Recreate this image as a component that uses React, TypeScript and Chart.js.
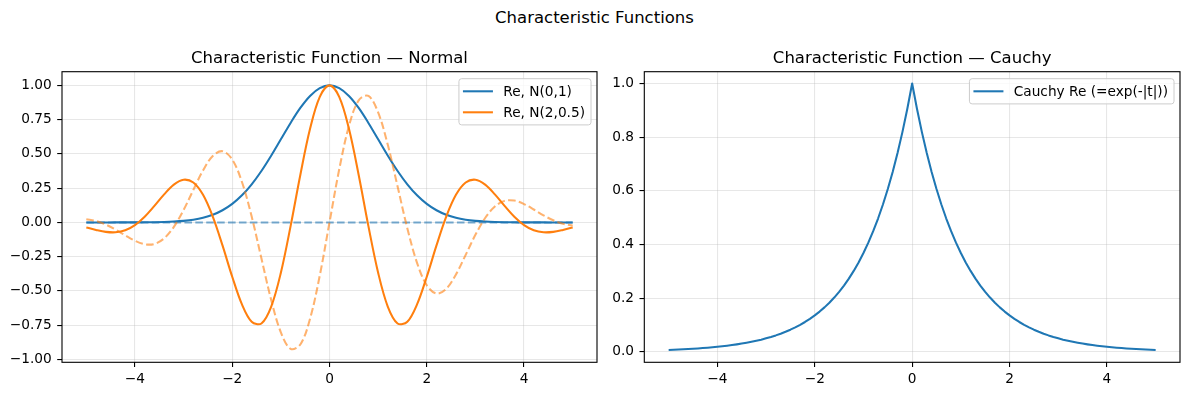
import React, { useEffect, useRef } from "react";
import { Chart, registerables } from "chart.js";
Chart.register(...registerables);

// ---------- data ----------
const tNormal = [-5.0,-4.8,-4.6,-4.4,-4.2,-4.0,-3.8,-3.6,-3.4,-3.2,-3.0,-2.8,-2.6,-2.4,-2.2,-2.0,-1.8,-1.6,-1.4,-1.2,-1.0,-0.8,-0.6,-0.4,-0.2,0,0.2,0.4,0.6,0.8,1.0,1.2,1.4,1.6,1.8,2.0,2.2,2.4,2.6,2.8,3.0,3.2,3.4,3.6,3.8,4.0,4.2,4.4,4.6,4.8,5.0];

const reN01 = [0.0000,0.0000,0.0000,0.0001,0.0001,0.0003,0.0007,0.0015,0.0031,0.0060,0.0111,0.0198,0.0340,0.0561,0.0889,0.1353,0.1979,0.2780,0.3753,0.4868,0.6065,0.7261,0.8353,0.9231,0.9802,1.0000,0.9802,0.9231,0.8353,0.7261,0.6065,0.4868,0.3753,0.2780,0.1979,0.1353,0.0889,0.0561,0.0340,0.0198,0.0111,0.0060,0.0031,0.0015,0.0007,0.0003,0.0001,0.0001,0.0000,0.0000,0.0000];

const imN01 = [0,0,0,0,0,0,0,0,0,0,0,0,0,0,0,0,0,0,0,0,0,0,0,0,0,0,0,0,0,0,0,0,0,0,0,0,0,0,0,0,0,0,0,0,0,0,0,0,0,0,0];

const reN2 = [-0.0369,-0.0552,-0.0692,-0.0721,-0.0573,-0.0197,0.0413,0.1204,0.2049,0.2761,0.3118,0.2911,0.2013,0.0426,-0.1678,-0.3964,-0.5982,-0.7249,-0.7375,-0.6159,-0.3672,-0.0270,0.3465,0.6829,0.9165,1.0000,0.9165,0.6829,0.3465,-0.0270,-0.3672,-0.6159,-0.7375,-0.7249,-0.5982,-0.3964,-0.1678,0.0426,0.2013,0.2911,0.3118,0.2761,0.2049,0.1204,0.0413,-0.0197,-0.0573,-0.0721,-0.0692,-0.0552,-0.0369];

const imN2 = [0.0239,0.0098,-0.0158,-0.0520,-0.0943,-0.1339,-0.1592,-0.1571,-0.1165,-0.0324,0.0907,0.2369,0.3796,0.4850,0.5197,0.4590,0.2952,0.0424,-0.2622,-0.5642,-0.8025,-0.9227,-0.8910,-0.7032,-0.3875,0,0.3875,0.7032,0.8910,0.9227,0.8025,0.5642,0.2622,-0.0424,-0.2952,-0.4590,-0.5197,-0.4850,-0.3796,-0.2369,-0.0907,0.0324,0.1165,0.1571,0.1592,0.1339,0.0943,0.0520,0.0158,-0.0098,-0.0239];

const tCauchy = [-5.0,-4.9,-4.8,-4.7,-4.6,-4.5,-4.4,-4.3,-4.2,-4.1,-4.0,-3.9,-3.8,-3.7,-3.6,-3.5,-3.4,-3.3,-3.2,-3.1,-3.0,-2.9,-2.8,-2.7,-2.6,-2.5,-2.4,-2.3,-2.2,-2.1,-2.0,-1.9,-1.8,-1.7,-1.6,-1.5,-1.4,-1.3,-1.2,-1.1,-1.0,-0.9,-0.8,-0.7,-0.6,-0.5,-0.4,-0.3,-0.2,-0.1,0,0.1,0.2,0.3,0.4,0.5,0.6,0.7,0.8,0.9,1.0,1.1,1.2,1.3,1.4,1.5,1.6,1.7,1.8,1.9,2.0,2.1,2.2,2.3,2.4,2.5,2.6,2.7,2.8,2.9,3.0,3.1,3.2,3.3,3.4,3.5,3.6,3.7,3.8,3.9,4.0,4.1,4.2,4.3,4.4,4.5,4.6,4.7,4.8,4.9,5.0];

const cauchyRe = [0.0067,0.0074,0.0082,0.0091,0.0101,0.0111,0.0123,0.0136,0.0150,0.0166,0.0183,0.0202,0.0224,0.0247,0.0273,0.0302,0.0334,0.0369,0.0408,0.0450,0.0498,0.0550,0.0608,0.0672,0.0743,0.0821,0.0907,0.1003,0.1108,0.1225,0.1353,0.1496,0.1653,0.1827,0.2019,0.2231,0.2466,0.2725,0.3012,0.3329,0.3679,0.4066,0.4493,0.4966,0.5488,0.6065,0.6703,0.7408,0.8187,0.9048,1.0000,0.9048,0.8187,0.7408,0.6703,0.6065,0.5488,0.4966,0.4493,0.4066,0.3679,0.3329,0.3012,0.2725,0.2466,0.2231,0.2019,0.1827,0.1653,0.1496,0.1353,0.1225,0.1108,0.1003,0.0907,0.0821,0.0743,0.0672,0.0608,0.0550,0.0498,0.0450,0.0408,0.0369,0.0334,0.0302,0.0273,0.0247,0.0224,0.0202,0.0183,0.0166,0.0150,0.0136,0.0123,0.0111,0.0101,0.0091,0.0082,0.0074,0.0067];

const xTicks = [-4, -2, 0, 2, 4];
const yTicksNormal = [-1.0, -0.75, -0.5, -0.25, 0, 0.25, 0.5, 0.75, 1.0];
const yTicksCauchy = [0, 0.2, 0.4, 0.6, 0.8, 1.0];

const suptitle = "Characteristic Functions";
const titleNormal = "Characteristic Function \u2014 Normal";
const titleCauchy = "Characteristic Function \u2014 Cauchy";

// ---------- styles ----------
const FONT = "'DejaVu Sans', sans-serif";
const BLUE = "#1f77b4";
const ORANGE = "#ff7f0e";
const BLUE_A = "rgba(31,119,180,0.6)";
const ORANGE_A = "rgba(255,127,14,0.6)";
const GRID = "rgba(176,176,176,0.3)";
const LW = 2.06;
const DASH = [7.6, 3.3];

const pts = (xs: number[], ys: number[]) => xs.map((x, i) => ({ x, y: ys[i] }));

const fmt = (v: number, d: number) => {
  const s = Math.abs(v).toFixed(d);
  return v < -1e-9 ? "\u2212" + s : s;
};

const frameLegend = {
  id: "frameLegend",
  afterDraw(chart: any, _args: any, opts: any) {
    const { ctx, chartArea: a } = chart;
    ctx.save();
    ctx.strokeStyle = "#000";
    ctx.lineWidth = 1.1;
    ctx.strokeRect(a.left, a.top, a.right - a.left, a.bottom - a.top);
    const items = (opts && opts.items) || [];
    if (items.length) {
      ctx.font = `13.7px ${FONT}`;
      const tw = Math.max(...items.map((it: any) => ctx.measureText(it.label).width));
      const w = 44.3 + tw + 6;
      const h = 11 + items.length * 14.2 + (items.length - 1) * 6.8;
      const right = a.right - 6;
      const top = a.top + 7;
      const left = right - w;
      ctx.beginPath();
      (ctx as any).roundRect(left, top, w, h, 2.7);
      ctx.fillStyle = "rgba(255,255,255,0.8)";
      ctx.fill();
      ctx.strokeStyle = "#cccccc";
      ctx.lineWidth = 1;
      ctx.stroke();
      items.forEach((it: any, i: number) => {
        const y = top + 12.6 + i * 21;
        ctx.beginPath();
        ctx.moveTo(left + 4, y);
        ctx.lineTo(left + 34, y);
        ctx.strokeStyle = it.color;
        ctx.lineWidth = LW;
        ctx.stroke();
        ctx.fillStyle = "#000";
        ctx.textBaseline = "middle";
        ctx.textAlign = "left";
        ctx.fillText(it.label, left + 44.3, y + 1);
      });
    }
    ctx.restore();
  },
};

function makeOptions(cfg: any) {
  const tickFont = { family: FONT, size: 13.7 };
  return {
    animation: false,
    responsive: true,
    maintainAspectRatio: false,
    layout: { padding: { left: 0, right: cfg.padRight, top: 48.7, bottom: 0 } },
    plugins: {
      legend: { display: false },
      tooltip: { enabled: false },
      title: {
        display: true,
        text: cfg.title,
        fullSize: false,
        color: "#000",
        font: { family: FONT, size: 16.5, weight: "normal", lineHeight: 1.2 },
        padding: { top: 0, bottom: 3.2 },
      },
      frameLegend: { items: cfg.legend },
    },
    scales: {
      x: {
        type: "linear",
        min: -5.5,
        max: 5.5,
        afterFit: (s: any) => { s.height = 33.7; },
        afterBuildTicks: (s: any) => { s.ticks = xTicks.map((v) => ({ value: v })); },
        ticks: {
          color: "#000",
          font: tickFont,
          padding: 4,
          autoSkip: false,
          maxRotation: 0,
          callback: (v: any) => fmt(Number(v), 0),
        },
        grid: { color: GRID, lineWidth: 1.1, tickColor: "#000", tickWidth: 1.1, tickLength: 4.8 },
        border: { display: false },
      },
      y: {
        type: "linear",
        min: cfg.yMin,
        max: cfg.yMax,
        afterFit: (s: any) => { s.width = cfg.yWidth; },
        afterBuildTicks: (s: any) => { s.ticks = cfg.yTicks.map((v: number) => ({ value: v })); },
        ticks: {
          color: "#000",
          font: tickFont,
          padding: 5.5,
          autoSkip: false,
          callback: (v: any) => fmt(Number(v), cfg.yDec),
        },
        grid: { color: GRID, lineWidth: 1.1, tickColor: "#000", tickWidth: 1.1, tickLength: 4.8 },
        border: { display: false },
      },
    },
  };
}

const line = (label: string, xs: number[], ys: number[], color: string, extra: any) => ({
  label,
  data: pts(xs, ys),
  borderColor: color,
  backgroundColor: color,
  borderWidth: LW,
  pointRadius: 0,
  fill: false,
  borderJoinStyle: "round",
  borderCapStyle: "butt",
  ...extra,
});

export default function App() {
  const leftRef = useRef<HTMLCanvasElement>(null);
  const rightRef = useRef<HTMLCanvasElement>(null);

  useEffect(() => {
    document.body.style.margin = "0";
    const left = new Chart(leftRef.current as HTMLCanvasElement, {
      type: "line",
      data: {
        datasets: [
          line("Re, N(0,1)", tNormal, reN01, BLUE, { tension: 0.35, order: 4 }),
          line("Im, N(0,1)", tNormal, imN01, BLUE_A, { tension: 0, borderDash: DASH, order: 3 }),
          line("Re, N(2,0.5)", tNormal, reN2, ORANGE, { tension: 0.35, order: 2 }),
          line("Im, N(2,0.5)", tNormal, imN2, ORANGE_A, { tension: 0.35, borderDash: DASH, order: 1 }),
        ],
      },
      options: makeOptions({
        title: titleNormal,
        padRight: 3,
        yWidth: 62,
        yMin: -1.021,
        yMax: 1.1,
        yTicks: yTicksNormal,
        yDec: 2,
        legend: [
          { label: "Re, N(0,1)", color: BLUE },
          { label: "Re, N(2,0.5)", color: ORANGE },
        ],
      }) as any,
      plugins: [frameLegend as any],
    });
    const right = new Chart(rightRef.current as HTMLCanvasElement, {
      type: "line",
      data: {
        datasets: [
          line("Cauchy Re (=exp(-|t|))", tCauchy, cauchyRe, BLUE, { tension: 0 }),
        ],
      },
      options: makeOptions({
        title: titleCauchy,
        padRight: 9,
        yWidth: 44.3,
        yMin: -0.0395,
        yMax: 1.044,
        yTicks: yTicksCauchy,
        yDec: 1,
        legend: [{ label: "Cauchy Re (=exp(-|t|))", color: BLUE }],
      }) as any,
      plugins: [frameLegend as any],
    });
    return () => {
      left.destroy();
      right.destroy();
    };
  }, []);

  return (
    <div style={{ position: "relative", width: 1189, height: 396, overflow: "hidden", background: "#fff" }}>
      <div
        style={{
          position: "absolute",
          left: 0,
          top: 8.3,
          width: 1189,
          textAlign: "center",
          fontFamily: FONT,
          fontSize: "16.5px",
          lineHeight: "20px",
          color: "#000",
        }}
      >
        {suptitle}
      </div>
      <div style={{ position: "absolute", left: 0, top: 0, width: 600, height: 396 }}>
        <canvas ref={leftRef} />
      </div>
      <div style={{ position: "absolute", left: 600, top: 0, width: 589, height: 396 }}>
        <canvas ref={rightRef} />
      </div>
    </div>
  );
}
